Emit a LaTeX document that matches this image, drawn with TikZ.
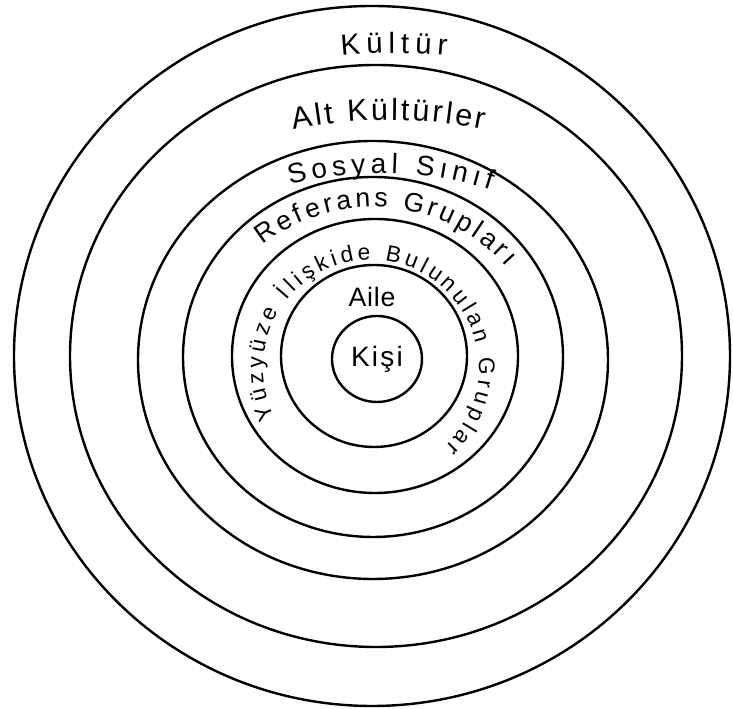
\documentclass[tikz,border=0pt]{standalone}
\usepackage{fontspec}
\newfontfamily\hand{Liberation Sans}
\usetikzlibrary{decorations.text,calc}
\begin{document}
\begin{tikzpicture}[x=0.75pt,y=0.75pt,
  ring/.style={draw=black,line width=1.8pt},
  arctext/.style={decorate,decoration={text along path,text align=fit to path,text={#1}}}]
\useasboundingbox (0,0) rectangle (733,709);
\fill[white] (0,0) rectangle (733,709);
% rings
\draw[ring] (372,353) ellipse [x radius=358,y radius=350];
\draw[ring] (376,353) ellipse [x radius=306,y radius=291];
\draw[ring] (373,349) ellipse [x radius=235,y radius=219];
\draw[ring] (373,352) ellipse [x radius=190,y radius=180];
\draw[ring] (375,353) ellipse [x radius=143,y radius=137];
\draw[ring] (374,353) ellipse [x radius=93,y radius=91];
\draw[ring] (377,350) ellipse [x radius=45,y radius=43];
% arc centres
\coordinate (kc) at (394,96);
\coordinate (ac) at (388,109);
\coordinate (sc) at (381,182);
\coordinate (rc) at (373,324);
\coordinate (yc) at (371,341);
% labels
\path[arctext={|\hand\fontsize{22}{22}\selectfont|Kültür}]
  ($(kc)+(95.4:560)$) arc[start angle=95.4,end angle=84.6,radius=560];
\path[arctext={|\hand\fontsize{23}{23}\selectfont|Alt Kültürler}]
  ($(ac)+(101.4:480)$) arc[start angle=101.4,end angle=78.5,radius=480];
\path[arctext={|\hand\fontsize{21}{21}\selectfont|Sosyal Sınıf}]
  ($(sc)+(104.9:354)$) arc[start angle=104.9,end angle=72,radius=354];
\path[arctext={|\hand\fontsize{20}{20}\selectfont|Referans Grupları}]
  ($(rc)+(128.2:178)$) arc[start angle=128.2,end angle=41.6,radius=178];
\path[arctext={|\hand\fontsize{17}{17}\selectfont|Yüzyüze İlişkide Bulunulan Gruplar}]
  ($(yc)+(207:108)$) arc[start angle=207,end angle=-47,radius=108];
\node[anchor=base,inner sep=0pt,font={\hand\fontsize{20}{20}\selectfont\addfontfeature{LetterSpace=3}}] (aile) at (372,402) {Aile};
\node[anchor=base,inner sep=0pt,font={\hand\fontsize{21}{21}\selectfont\addfontfeature{LetterSpace=8}}] (kisi) at (377,342) {Kişi};
\end{tikzpicture}
\end{document}
